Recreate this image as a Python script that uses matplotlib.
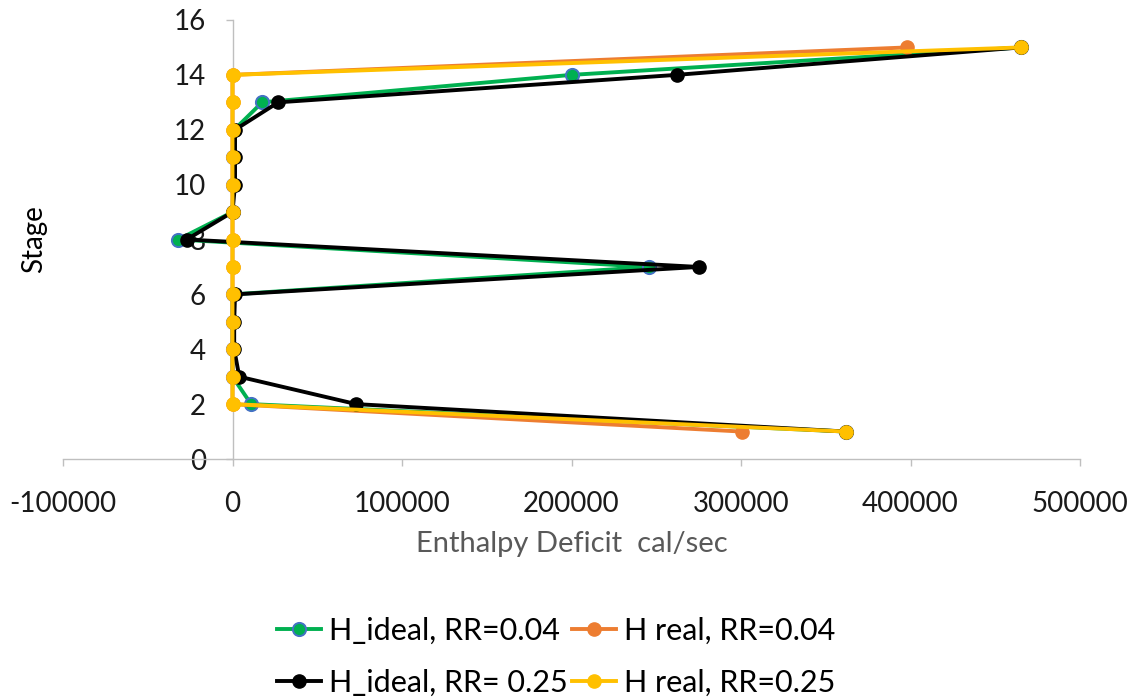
import matplotlib
matplotlib.use("Agg")
import matplotlib.pyplot as plt

stages = list(range(1, 16))
h_ideal_004 = [362000, 11000, 0, 0, 0, 0, 246000, -32000, 0, 500, 500, 1000, 17500, 200000, 465000]
h_real_004 = [300500, 0, 0, 0, 0, 0, 0, 0, 0, 0, 0, 0, 0, 0, 398000]
h_ideal_025 = [362000, 73000, 4000, 1000, 1000, 1500, 275000, -27000, 0, 1500, 1500, 1500, 27000, 262000, 465000]
h_real_025 = [362000, 0, 0, 0, 0, 0, 0, 0, 0, 0, 0, 0, 0, 0, 465000]

labels = ["H_ideal, RR=0.04", "H real, RR=0.04", "H_ideal, RR= 0.25", "H real, RR=0.25"]
x_ticks = [-100000, 0, 100000, 200000, 300000, 400000, 500000]
y_ticks = [0, 2, 4, 6, 8, 10, 12, 14, 16]

plt.rcParams['font.family'] = ['Lato', 'DejaVu Sans']

fig = plt.figure(figsize=(11.37, 6.98), dpi=100)
ax = fig.add_axes([63/1137, 1-459/698, (1080-63)/1137, (459-20)/698])

lw = 2.8
ms = 9.5
l1, = ax.plot(h_ideal_004, stages, color='#00B050', lw=lw, marker='o', ms=ms,
              mfc='#00B050', mec='#4472C4', mew=1.4, label=labels[0])
l2, = ax.plot(h_real_004, stages, color='#ED7D31', lw=lw, marker='o', ms=ms,
              mfc='#ED7D31', mec='#ED7D31', label=labels[1])
l3, = ax.plot(h_ideal_025, stages, color='#000000', lw=lw, marker='o', ms=ms,
              mfc='#000000', mec='#000000', label=labels[2])
l4, = ax.plot(h_real_025, stages, color='#FFC000', lw=lw, marker='o', ms=ms,
              mfc='#FFC000', mec='#FFC000', label=labels[3])

ax.set_xlim(-100000, 500000)
ax.set_ylim(0, 16)
ax.set_xticks(x_ticks)
ax.set_yticks(y_ticks)
ax.set_xticklabels([str(v) for v in x_ticks])
ax.set_yticklabels([str(v) for v in y_ticks])

for s in ['top', 'right']:
    ax.spines[s].set_visible(False)
ax.spines['left'].set_position(('data', 0))
ax.spines['left'].set_zorder(0.5)
for s in ['left', 'bottom']:
    ax.spines[s].set_color('#BFBFBF')
    ax.spines[s].set_linewidth(1.0)

ax.tick_params(axis='both', colors='#BFBFBF', labelcolor='#1a1a1a', labelsize=20,
               length=5, width=1.0, direction='out')
ax.tick_params(axis='y', pad=14)
ax.tick_params(axis='x', pad=18)

ax.set_xlabel("Enthalpy Deficit  cal/sec", fontsize=21, color='#595959')
ax.xaxis.set_label_coords(0.5, -0.163)
ax.set_ylabel("Stage", fontsize=20, color='#000000')
ax.yaxis.set_label_coords(-0.016, 0.5)

leg = fig.legend([l1, l3, l2, l4], [labels[0], labels[2], labels[1], labels[3]],
                 loc='center', bbox_to_anchor=(556/1137, 1-656.5/698), ncol=2,
                 frameon=False, fontsize=22, handlelength=1.45, handletextpad=0.25,
                 columnspacing=0.15, labelspacing=0.78)

fig.savefig("out.png", dpi=100)
